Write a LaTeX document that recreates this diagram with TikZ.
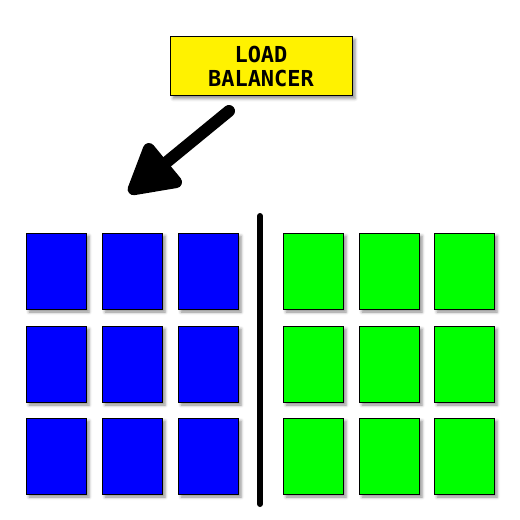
\documentclass[tikz,border=0pt]{standalone}
\usepackage{fontspec}
\setmonofont{DejaVu Sans Mono}
\usetikzlibrary{arrows.meta, positioning, shadows.blur}
\tikzset{x=1pt, y=-1pt, % Work in pixels, y going down
server/.style={ % Sets the properties for each server box
draw=black, thin, inner sep=0pt,
minimum width=60pt, minimum height=76pt,
blur shadow={shadow xshift=3pt, shadow yshift=-3pt, shadow blur radius=3pt, shadow opacity=45}},
oldserver/.style={server, fill=blue}, % Old pool
newserver/.style={server, fill=green}, % New pool
balancer/.style={ % The load balancer box
draw=black, thin, fill=yellow, align=center,
minimum width=182pt, minimum height=59pt,
font=\ttfamily\bfseries\fontsize{22}{24}\selectfont,
blur shadow={shadow xshift=3pt, shadow yshift=-3pt, shadow blur radius=3pt, shadow opacity=45}}}

\begin{document}
\begin{tikzpicture}

    \useasboundingbox (0,0) rectangle (520,520);

    \node[balancer] (lb) at (261,66) {LOAD\\BALANCER};

    % server grid
    \foreach \row/\y in {1/271, 2/364, 3/456} {
        \foreach \col/\x in {1/56, 2/132, 3/208}
            \node[oldserver] (old\row\col) at (\x,\y) {};
        \foreach \col/\x in {1/313, 2/389, 3/464}
            \node[newserver] (new\row\col) at (\x,\y) {};
    }

    % divider
    \coordinate (divtop) at (260,216);
    \coordinate (divbot) at (260,504);
    \draw[line width=6pt, line cap=round] (divtop) -- (divbot);

    % traffic arrow
    \coordinate (from) at (229,111);
    \coordinate (to) at (129,193);
    \draw[line width=12pt, line cap=round, -{Triangle[length=56pt, width=60pt, round]}] (from) -- (to);

\end{tikzpicture}
\end{document}
